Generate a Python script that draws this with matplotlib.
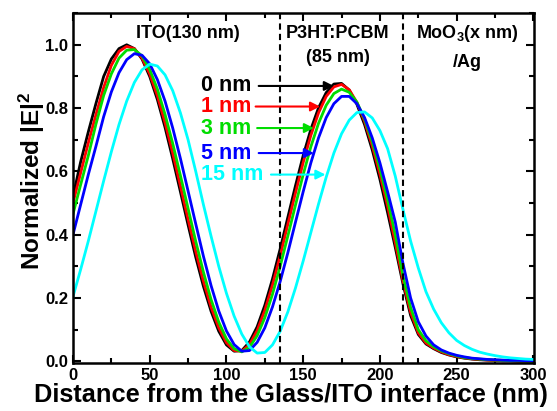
import matplotlib
matplotlib.use('Agg')
import matplotlib.pyplot as plt
from matplotlib.ticker import MultipleLocator

# distance from the glass/ITO interface (nm), sampled every 5 nm
distance = list(range(0, 305, 5))

# normalized |E|^2 for each MoO3 thickness
e_0nm = [0.52, 0.63, 0.725, 0.815, 0.90, 0.955, 0.988, 1.0, 0.988, 0.955,
         0.90, 0.827, 0.739, 0.64, 0.536, 0.431, 0.329, 0.237, 0.158, 0.095,
         0.052, 0.032, 0.034, 0.061, 0.109, 0.177, 0.26, 0.355, 0.455, 0.555,
         0.65, 0.733, 0.801, 0.849, 0.876, 0.878, 0.857, 0.812, 0.748, 0.668,
         0.575, 0.47, 0.36, 0.245, 0.145, 0.085, 0.055, 0.04, 0.028, 0.02,
         0.014, 0.01, 0.007, 0.005, 0.004, 0.003, 0.002, 0.002, 0.001, 0.001, 0.001]
e_1nm = [0.50, 0.595, 0.69, 0.78, 0.865, 0.935, 0.979, 0.995, 0.988, 0.958,
         0.908, 0.839, 0.754, 0.658, 0.554, 0.449, 0.347, 0.253, 0.171, 0.106,
         0.059, 0.034, 0.032, 0.053, 0.097, 0.161, 0.241, 0.333, 0.433, 0.532,
         0.628, 0.714, 0.785, 0.837, 0.867, 0.875, 0.858, 0.818, 0.758, 0.681,
         0.591, 0.49, 0.375, 0.255, 0.155, 0.09, 0.058, 0.042, 0.03, 0.021,
         0.015, 0.011, 0.008, 0.006, 0.004, 0.003, 0.002, 0.002, 0.001, 0.001, 0.001]
e_3nm = [0.465, 0.558, 0.65, 0.75, 0.84, 0.908, 0.958, 0.983, 0.985, 0.965,
         0.922, 0.86, 0.78, 0.688, 0.587, 0.483, 0.379, 0.282, 0.195, 0.124,
         0.071, 0.04, 0.03, 0.044, 0.081, 0.138, 0.212, 0.30, 0.396, 0.494,
         0.59, 0.678, 0.752, 0.809, 0.846, 0.86, 0.85, 0.819, 0.765, 0.694,
         0.609, 0.51, 0.40, 0.27, 0.17, 0.10, 0.065, 0.046, 0.033, 0.024,
         0.017, 0.012, 0.009, 0.007, 0.005, 0.004, 0.003, 0.002, 0.002, 0.001, 0.001]
e_5nm = [0.40, 0.495, 0.59, 0.68, 0.773, 0.851, 0.912, 0.953, 0.972, 0.967,
         0.94, 0.89, 0.822, 0.737, 0.641, 0.538, 0.434, 0.332, 0.239, 0.159,
         0.096, 0.053, 0.032, 0.034, 0.06, 0.106, 0.172, 0.252, 0.343, 0.44,
         0.536, 0.627, 0.706, 0.77, 0.814, 0.837, 0.837, 0.814, 0.77, 0.706,
         0.627, 0.536, 0.44, 0.31, 0.20, 0.125, 0.08, 0.052, 0.036, 0.026,
         0.019, 0.014, 0.01, 0.008, 0.006, 0.005, 0.004, 0.003, 0.003, 0.002, 0.002]
e_15nm = [0.204, 0.29, 0.38, 0.475, 0.57, 0.662, 0.748, 0.822, 0.881, 0.921,
          0.939, 0.933, 0.905, 0.855, 0.785, 0.70, 0.60, 0.495, 0.395, 0.30,
          0.215, 0.143, 0.086, 0.046, 0.026, 0.028, 0.052, 0.095, 0.156, 0.232,
          0.317, 0.407, 0.497, 0.582, 0.658, 0.719, 0.762, 0.786, 0.788, 0.769,
          0.729, 0.672, 0.585, 0.48, 0.38, 0.295, 0.22, 0.165, 0.122, 0.09,
          0.066, 0.05, 0.038, 0.029, 0.023, 0.018, 0.014, 0.011, 0.009, 0.007, 0.006]

series = [e_0nm, e_1nm, e_3nm, e_5nm, e_15nm]
labels = ['0 nm', '1 nm', '3 nm', '5 nm', '15 nm']
colors = ['#000000', '#ff0000', '#00dd00', '#0000ff', '#00ffff']

# layer interfaces (nm)
interfaces = [135, 215]

# arrow annotations: label height and arrow tip on the second peak
label_y = [0.87, 0.805, 0.737, 0.658, 0.59]
arrow_tip_x = [170, 161, 157, 157, 164.5]
arrow_start_x = [121, 119, 120, 121, 129]

plt.rcParams['font.family'] = ['Liberation Sans', 'DejaVu Sans']
plt.rcParams['font.weight'] = 'bold'
plt.rcParams['mathtext.fontset'] = 'custom'
plt.rcParams['mathtext.rm'] = 'Liberation Sans:bold'
plt.rcParams['mathtext.it'] = 'Liberation Sans:bold'
plt.rcParams['mathtext.bf'] = 'Liberation Sans:bold'
plt.rcParams['mathtext.default'] = 'rm'

fig = plt.figure(figsize=(5.57, 4.11), dpi=100)
ax = fig.add_axes([0.131, 0.117, 0.828, 0.851])

for y, c in zip(series, colors):
    ax.plot(distance, y, '-', color=c, linewidth=2)

for xi in interfaces:
    ax.axvline(xi, color='black', linestyle=(0, (3, 2)), linewidth=1.5)

for lab, ly, tx, sx, c in zip(labels, label_y, arrow_tip_x, arrow_start_x, colors):
    ax.text(83.5, ly, lab, color=c, fontsize=15.5, fontweight='bold',
            ha='left', va='center')
    ax.annotate('', xy=(tx, ly), xytext=(sx, ly),
                arrowprops=dict(arrowstyle='-|>', color=c, lw=1.5,
                                mutation_scale=14, shrinkA=0, shrinkB=0))

ax.text(75, 1.035, 'ITO(130 nm)', fontsize=13, fontweight='bold',
        ha='center', va='center')
ax.text(172.5, 1.035, 'P3HT:PCBM', fontsize=13, fontweight='bold',
        ha='center', va='center')
ax.text(172.5, 0.96, '(85 nm)', fontsize=13, fontweight='bold',
        ha='center', va='center')
ax.text(257, 1.035, 'MoO$_3$(x nm)', fontsize=13, fontweight='bold',
        ha='center', va='center')
ax.text(257, 0.945, '/Ag', fontsize=13, fontweight='bold',
        ha='center', va='center')

ax.set_xlim(0, 300.5)
ax.set_ylim(-0.005, 1.1)
ax.xaxis.set_major_locator(MultipleLocator(50))
ax.xaxis.set_minor_locator(MultipleLocator(25))
ax.yaxis.set_major_locator(MultipleLocator(0.2))
ax.yaxis.set_minor_locator(MultipleLocator(0.1))
ax.tick_params(which='both', direction='in', top=True, right=True,
               width=1.5, labelsize=12)
ax.tick_params(which='major', length=6)
ax.tick_params(which='minor', length=3.5)
for lab in ax.get_xticklabels() + ax.get_yticklabels():
    lab.set_fontweight('bold')
for s in ax.spines.values():
    s.set_linewidth(1.8)

ax.set_xlabel('Distance from the Glass/ITO interface (nm)', fontsize=18.3,
              fontweight='bold')
ax.xaxis.set_label_coords(0.473, -0.058)
ax.set_ylabel('Normalized |E|$^2$', fontsize=17.5, fontweight='bold')
ax.yaxis.set_label_coords(-0.056, 0.52)

fig.savefig('out.png', dpi=100)
